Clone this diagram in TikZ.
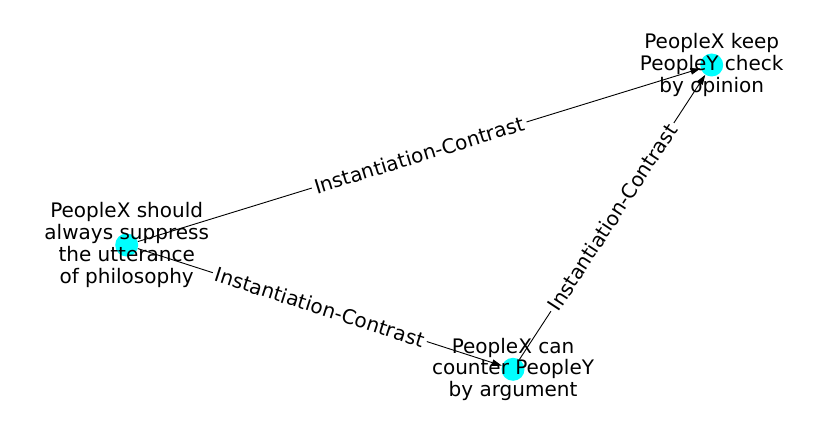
\documentclass[tikz,border=0pt]{standalone}
\usepackage{fontspec}
\setmainfont{DejaVu Sans}
\usetikzlibrary{arrows.meta}
\definecolor{aquanode}{RGB}{0,255,255}
\tikzset{
  vert/.style={circle, fill=aquanode, draw=none, minimum size=23pt, inner sep=0pt},
  nlab/.style={align=center, inner sep=0pt, text=black, font=\fontsize{20}{21.8}\selectfont},
  elab/.style={fill=white, inner sep=3pt, text=black, font=\fontsize{20}{21.8}\selectfont, sloped},
  edge/.style={draw=black, line width=0.9pt, -{Triangle[length=10pt,width=6.5pt]}}
}
\begin{document}
\begin{tikzpicture}[x=1pt,y=1pt]
\useasboundingbox (0,0) rectangle (837,434);
\node[vert] (A) at (126.7,189) {};
\node[vert] (B) at (711.7,369) {};
\node[vert] (C) at (513,64.7) {};
\draw[edge] (A) -- node[elab] (l1) {Instantiation-Contrast} (B);
\draw[edge] (A) -- node[elab] (l2) {Instantiation-Contrast} (C);
\draw[edge] (C) -- node[elab] (l3) {Instantiation-Contrast} (B);
\node[nlab] (At) at (A) {PeopleX should\\always suppress\\the utterance\\of philosophy};
\node[nlab] (Bt) at (B) {PeopleX keep\\PeopleY check\\by opinion};
\node[nlab] (Ct) at (C) {PeopleX can\\counter PeopleY\\by argument};
\end{tikzpicture}
\end{document}
